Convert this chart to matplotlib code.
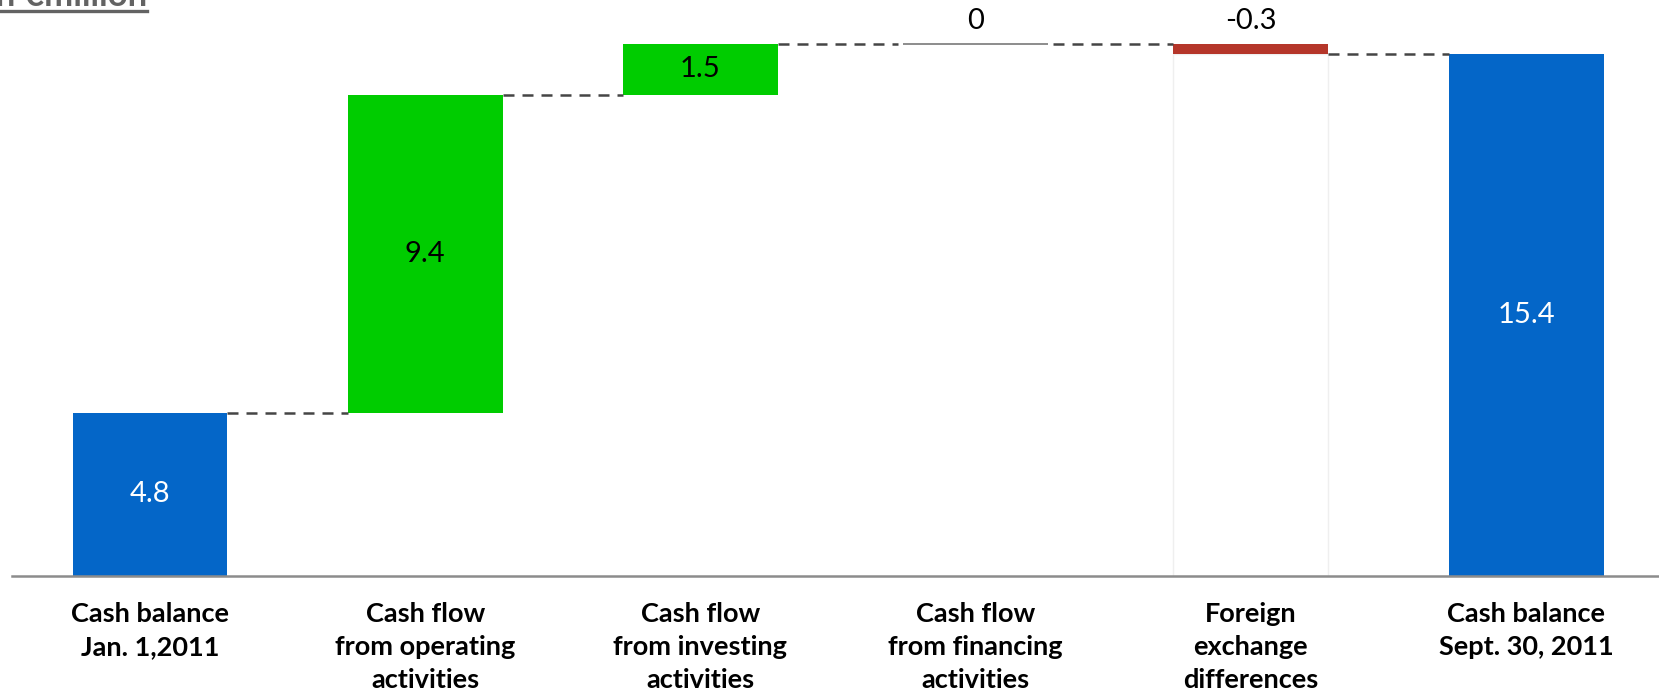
import matplotlib
matplotlib.use("Agg")
import matplotlib.pyplot as plt
from matplotlib.lines import Line2D

plt.rcParams['font.family'] = ['Lato', 'DejaVu Sans']

# Cash bridge, in EUR million
categories = [
    "Cash balance\nJan. 1,2011",
    "Cash flow\nfrom operating\nactivities",
    "Cash flow\nfrom investing\nactivities",
    "Cash flow\nfrom financing\nactivities",
    "Foreign\nexchange\ndifferences",
    "Cash balance\nSept. 30, 2011",
]
values = [4.8, 9.4, 1.5, 0, -0.3, 15.4]
is_total = [True, False, False, False, False, True]

BLUE = '#0466C8'
GREEN = '#00CC00'
RED = '#B5362A'
WIDTH = 0.563

fig = plt.figure(figsize=(16.59, 6.93), dpi=100)
ax = fig.add_axes([0, 0.1695, 1, 0.8305])

running = 0.0
levels = []   # (bottom, top, running total) of each bar
for i, (v, tot) in enumerate(zip(values, is_total)):
    if tot:
        bottom, top = 0.0, v
        running = v
        color, txt_color = BLUE, 'white'
    else:
        bottom = min(running, running + v)
        top = max(running, running + v)
        running += v
        color = GREEN if v > 0 else RED
        txt_color = 'black'
        if v < 0:
            # faint outline of the hidden base under a negative step
            ax.bar(i, bottom, width=WIDTH, bottom=0, facecolor='none',
                   edgecolor='#EFEFEF', linewidth=1)
    if v == 0:
        ax.bar(i, 0, width=WIDTH * 0.94, bottom=bottom, facecolor='none',
               edgecolor='#8C8C8C', linewidth=1.4)
    else:
        ax.bar(i, top - bottom, width=WIDTH, bottom=bottom, color=color,
               linewidth=0)
    levels.append((bottom, top, running))

    label = f"{v:g}"
    if abs(top - bottom) < 1:
        ax.text(i, top + 0.3, label, ha='center', va='bottom',
                fontsize=21, color='black')
    else:
        ax.text(i, (bottom + top) / 2, label, ha='center', va='center',
                fontsize=21, color=txt_color)

# dashed connectors between neighbouring bars
for i in range(len(values) - 1):
    level = levels[i][2]
    ax.plot([i + WIDTH / 2, i + 1 - WIDTH / 2], [level, level],
            linestyle=(0, (4.4, 3.2)), color='#454545', linewidth=1.8)

ax.set_xlim(-0.545, 5.483)
ax.set_ylim(0, 17.0)
ax.set_xticks(range(len(categories)))
ax.set_xticklabels(categories, fontsize=19.5, fontweight='bold',
                   linespacing=1.46)
ax.tick_params(axis='x', length=0, pad=19)
ax.set_yticks([])
for side in ['top', 'right', 'left']:
    ax.spines[side].set_visible(False)
ax.spines['bottom'].set_color('#8C8C8C')
ax.spines['bottom'].set_linewidth(1.8)
ax.spines['bottom'].set_bounds(-0.501, 5.483)
ax.patch.set_alpha(0)

title = fig.text(147 / 1659, 1 - 6 / 693, "in €million", ha='right',
                 va='baseline', fontsize=25, fontweight='bold',
                 color='#636363')
fig.canvas.draw()
bb = title.get_window_extent().transformed(fig.transFigure.inverted())
fig.add_artist(Line2D([max(bb.x0, 0), bb.x1], [1 - 10.7 / 693] * 2,
                      transform=fig.transFigure, color='#636363',
                      linewidth=2.4))

fig.savefig("out.png", dpi=100)
